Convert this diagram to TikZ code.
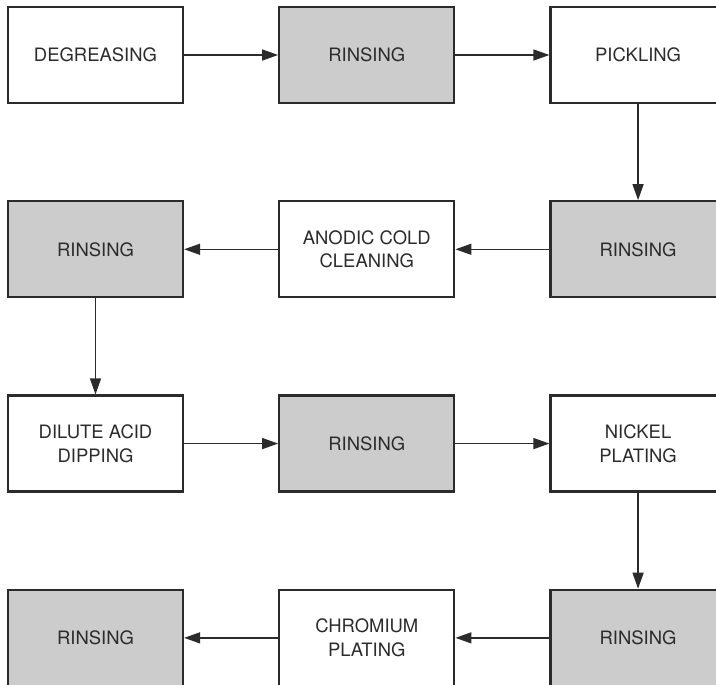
\documentclass[tikz,border=0pt]{standalone}
\usepackage{fontspec}
\setmainfont{TeX Gyre Heros}
\usepackage{xcolor}
\usepackage{tikz}
\usetikzlibrary{arrows.meta,positioning}

\definecolor{inkgray}{HTML}{2B2B2B}
\definecolor{rinsegray}{HTML}{CCCCCC}

\begin{document}
\begin{tikzpicture}[
    node distance=1.92cm and 1.88cm,
    box/.style={rectangle, draw=inkgray, line width=1.3pt, minimum width=3.5cm, minimum height=1.92cm, align=center, font=\fontsize{10.5}{13.6}\selectfont, text=inkgray},
    rinse/.style={box, fill=rinsegray},
    flow/.style={-{Triangle[length=0.32cm,width=0.22cm]}, draw=inkgray, fill=inkgray, line width=0.8pt}
]
    \useasboundingbox (0,0) rectangle (14.32,-13.68);
    % row 1, left to right
    \node[box] (degrease) at (1.91,-1.1) {DEGREASING};
    \node[rinse, right=of degrease] (rinseA) {RINSING};
    \node[box, right=of rinseA] (pickle) {PICKLING};
    % row 2, right to left
    \node[rinse, below=of pickle] (rinseB) {RINSING};
    \node[box, left=of rinseB] (anodic) {ANODIC COLD\\CLEANING};
    \node[rinse, left=of anodic] (rinseC) {RINSING};
    % row 3, left to right
    \node[box, below=of rinseC] (dilute) {DILUTE ACID\\DIPPING};
    \node[rinse, right=of dilute] (rinseD) {RINSING};
    \node[box, right=of rinseD] (nickel) {NICKEL\\PLATING};
    % row 4, right to left
    \node[rinse, below=of nickel] (rinseE) {RINSING};
    \node[box, left=of rinseE] (chrome) {CHROMIUM\\PLATING};
    \node[rinse, left=of chrome] (rinseF) {RINSING};

    \draw[flow] (degrease) -- (rinseA);
    \draw[flow] (rinseA) -- (pickle);
    \draw[flow] (pickle) -- (rinseB);
    \draw[flow] (rinseB) -- (anodic);
    \draw[flow] (anodic) -- (rinseC);
    \draw[flow] (rinseC) -- (dilute);
    \draw[flow] (dilute) -- (rinseD);
    \draw[flow] (rinseD) -- (nickel);
    \draw[flow] (nickel) -- (rinseE);
    \draw[flow] (rinseE) -- (chrome);
    \draw[flow] (chrome) -- (rinseF);
\end{tikzpicture}
\end{document}
